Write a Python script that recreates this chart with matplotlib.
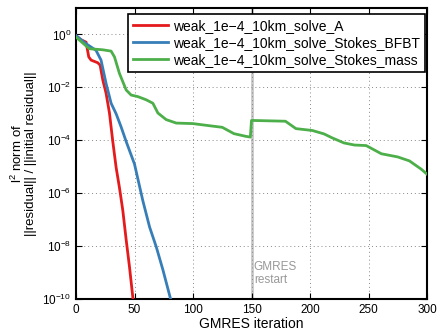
import numpy as np
import matplotlib
matplotlib.use('Agg')
import matplotlib.pyplot as plt
from matplotlib.ticker import FixedLocator

plt.rcParams['font.family'] = ['Liberation Sans', 'DejaVu Sans']
plt.rcParams['mathtext.fontset'] = 'custom'
plt.rcParams['mathtext.rm'] = 'Liberation Sans'
plt.rcParams['mathtext.default'] = 'regular'

# iteration / log10(relative residual)
it_A = [0, 4.3, 8.6, 10.9, 12.9, 18.6, 20.6, 22.9, 25.7, 28.6, 31.4, 34.3, 37.1, 40, 42.9, 45.7, 48.6]
log_A = [-0.05, -0.2, -0.29, -0.85, -0.97, -1.07, -1.16, -1.72, -2.22, -2.97, -4.03, -5.03, -5.78, -6.65, -7.77, -8.78, -9.95]

it_B = [0, 8.6, 17.1, 21.4, 25.7, 30, 34.3, 38.6, 42.9, 50, 57.1, 62.9, 68.6, 74.3, 80.6]
log_B = [-0.04, -0.35, -0.6, -0.97, -1.85, -2.6, -3.0, -3.5, -4.05, -4.9, -6.28, -7.28, -8.03, -8.9, -9.96]

it_M = [0, 11.4, 22.9, 30, 32.9, 37.1, 42.9, 47.1, 52.9, 60, 65.7, 70, 77.1, 85.7, 100, 114, 125,
        135, 145, 149, 150, 179, 188, 202, 212, 219, 229, 238, 248, 261, 275, 285, 295, 300]
log_M = [-0.1, -0.54, -0.58, -0.63, -0.85, -1.47, -2.1, -2.29, -2.35, -2.47, -2.6, -2.97, -3.22, -3.35, -3.37, -3.45, -3.51,
         -3.75, -3.85, -3.88, -3.25, -3.28, -3.56, -3.63, -3.76, -3.91, -4.1, -4.18, -4.2, -4.51, -4.63, -4.78, -5.09, -5.28]

labels = ['weak_1e\u22124_10km_solve_A',
          'weak_1e\u22124_10km_solve_Stokes_BFBT',
          'weak_1e\u22124_10km_solve_Stokes_mass']
colors = ['#e41a1c', '#377eb8', '#4daf4a']
restart = 150

fig = plt.figure(figsize=(4.37, 3.31), dpi=100)
ax = fig.add_axes([76/437, 32/331, 351/437, 291/331])

ax.axvline(restart, color='#c8c8c8', lw=2, zorder=1)
ax.text(restart + 2, 10**-8.55, 'GMRES\nrestart', color='#999999', fontsize=8.5,
        va='top', ha='left', linespacing=1.1)

for it, lg, lab, c in zip([it_A, it_B, it_M], [log_A, log_B, log_M], labels, colors):
    ax.semilogy(it, 10.0**np.array(lg), color=c, lw=2, label=lab, zorder=3)

ax.set_xlim(0, 300)
ax.set_ylim(1e-10, 10)
ax.set_xticks([0, 50, 100, 150, 200, 250, 300])
ax.yaxis.set_major_locator(FixedLocator([1e-10, 1e-8, 1e-6, 1e-4, 1e-2, 1e0]))
ax.yaxis.set_minor_locator(FixedLocator([]))
ax.grid(True, which='major', linestyle=(0, (1, 3)), color='#888888', lw=0.7)
ax.tick_params(direction='in', top=True, right=True, labelsize=8.5, length=4, width=0.8)
for s in ax.spines.values():
    s.set_linewidth(1.5)

ax.set_xlabel('GMRES iteration', fontsize=10, labelpad=1)
ax.set_ylabel('l$^2$ norm of\n||residual|| / ||initial residual||', fontsize=9.5, labelpad=4,
              linespacing=1.0)

leg = ax.legend(loc='upper right', fontsize=10, handlelength=2.5, handletextpad=0.4,
                borderpad=0.35, labelspacing=0.2, fancybox=False, framealpha=1,
                edgecolor='black', borderaxespad=0.15, bbox_to_anchor=(1.0, 0.985))
leg.get_frame().set_linewidth(1.2)

fig.savefig('out.png', dpi=100)
